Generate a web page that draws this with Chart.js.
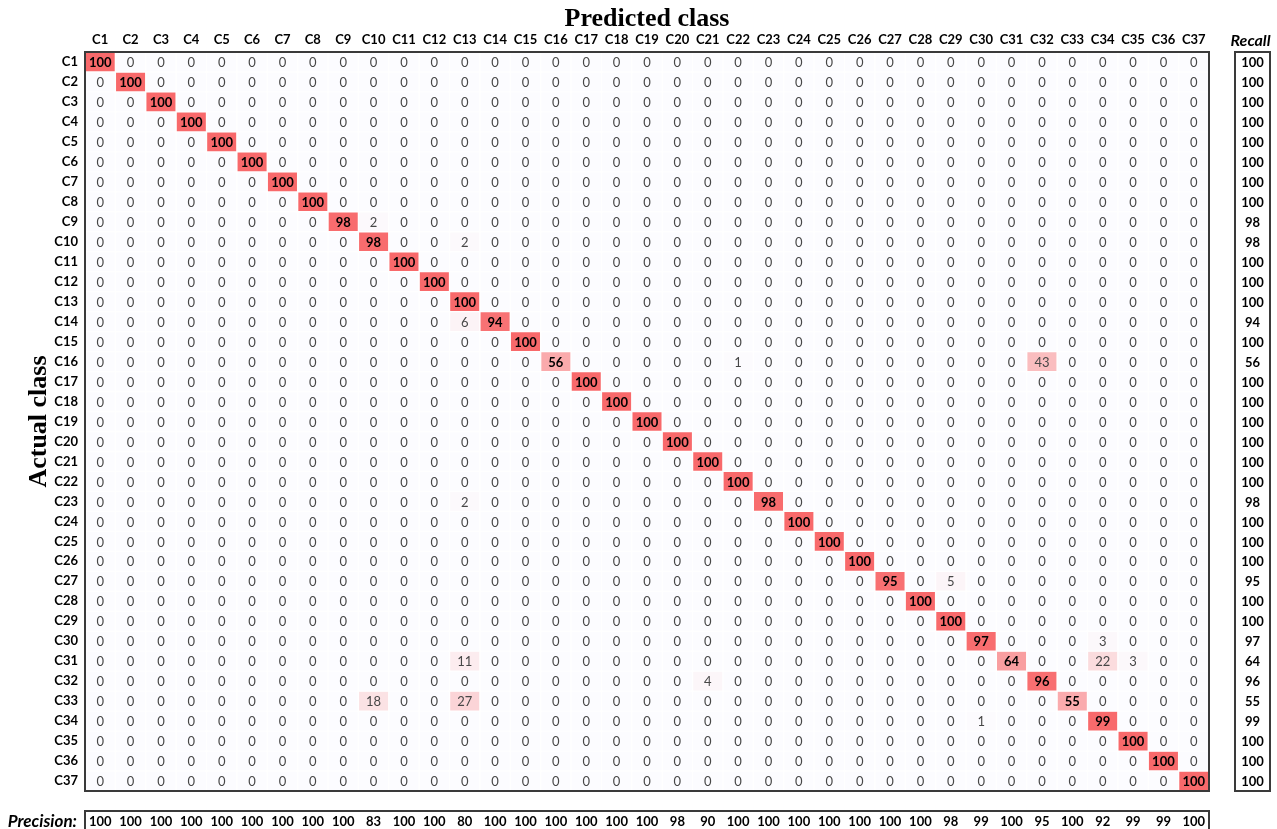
<!DOCTYPE html>
<html lang="en">
<head>
  <meta charset="UTF-8">
  <title>Confusion matrix</title>
  <script src="https://cdn.jsdelivr.net/npm/chart.js"></script>
  <style>
    body { margin: 0; background: #fff; }
    .wrap { width: 1277px; height: 829px; position: relative; }
  </style>
</head>
<body>
  <div class="wrap"><canvas id="cm"></canvas></div>

  <script>
    const CLASSES = ['C1', 'C2', 'C3', 'C4', 'C5', 'C6', 'C7', 'C8', 'C9', 'C10',
      'C11', 'C12', 'C13', 'C14', 'C15', 'C16', 'C17', 'C18', 'C19', 'C20',
      'C21', 'C22', 'C23', 'C24', 'C25', 'C26', 'C27', 'C28', 'C29', 'C30',
      'C31', 'C32', 'C33', 'C34', 'C35', 'C36', 'C37'];

    // correct predictions (diagonal), in class order
    const DIAGONAL = [100, 100, 100, 100, 100, 100, 100, 100, 98, 98,
      100, 100, 100, 94, 100, 56, 100, 100, 100, 100,
      100, 100, 98, 100, 100, 100, 95, 100, 100, 97,
      64, 96, 55, 99, 100, 100, 100];

    // off-diagonal cells: [actual, predicted, value]
    const CONFUSIONS = [
      ['C9', 'C10', 2],
      ['C10', 'C13', 2],
      ['C14', 'C13', 6],
      ['C16', 'C22', 1],
      ['C16', 'C32', 43],
      ['C23', 'C13', 2],
      ['C27', 'C29', 5],
      ['C30', 'C34', 3],
      ['C31', 'C13', 11],
      ['C31', 'C34', 22],
      ['C31', 'C35', 3],
      ['C32', 'C21', 4],
      ['C33', 'C10', 18],
      ['C33', 'C13', 27],
      ['C34', 'C30', 1]
    ];

    const RECALL = [100, 100, 100, 100, 100, 100, 100, 100, 98, 98,
      100, 100, 100, 94, 100, 56, 100, 100, 100, 100,
      100, 100, 98, 100, 100, 100, 95, 100, 100, 97,
      64, 96, 55, 99, 100, 100, 100];

    const PRECISION = [100, 100, 100, 100, 100, 100, 100, 100, 100, 83,
      100, 100, 80, 100, 100, 100, 100, 100, 100, 98,
      90, 100, 100, 100, 100, 100, 100, 100, 98, 99,
      100, 95, 100, 92, 99, 99, 100];

    // full table for the chart
    const matrix = CLASSES.map((_, r) => CLASSES.map((_, c) => (r === c ? DIAGONAL[r] : 0)));
    CONFUSIONS.forEach(([a, p, v]) => {
      matrix[CLASSES.indexOf(a)][CLASSES.indexOf(p)] = v;
    });

    // white -> red colour scale
    function heatColor(v) {
      const t = v / 100;
      const r = Math.round(252 + t * (248 - 252));
      const g = Math.round(252 + t * (105 - 252));
      const b = Math.round(255 + t * (107 - 255));
      return 'rgb(' + r + ',' + g + ',' + b + ')';
    }

    const cellText = {
      id: 'cellText',
      afterDatasetsDraw(chart) {
        const { ctx, chartArea, scales } = chart;
        const x = scales.x, y = scales.y;
        ctx.save();
        ctx.textAlign = 'center';
        ctx.textBaseline = 'middle';

        chart.data.datasets.forEach((ds, r) => {
          chart.getDatasetMeta(r).data.forEach((bar, c) => {
            const diag = r === c;
            ctx.font = (diag ? 'bold ' : '') + '13px Lato';
            ctx.fillStyle = diag ? '#000' : '#474747';
            ctx.fillText(matrix[r][c], bar.x, (bar.y + bar.base) / 2 + 1);
          });
        });

        ctx.lineWidth = 2;
        ctx.strokeStyle = '#3a3a3a';
        ctx.strokeRect(chartArea.left, chartArea.top, chartArea.width, chartArea.height);

        // recall column
        const rx = chartArea.right + 26, rw = 35;
        ctx.strokeRect(rx, chartArea.top, rw, chartArea.height);
        ctx.fillStyle = '#000';
        ctx.font = 'bold 13px Lato';
        RECALL.forEach((v, i) => ctx.fillText(v, rx + rw / 2, y.getPixelForValue(i + 1) + 1));
        ctx.font = 'italic bold 16px Lato';
        ctx.fillText('Recall', rx + rw / 2 - 2, chartArea.top - 11);

        // precision row
        const py = chartArea.bottom + 20;
        ctx.strokeRect(chartArea.left, py, chartArea.width, 30);
        ctx.font = 'bold 13px Lato';
        PRECISION.forEach((v, i) => ctx.fillText(v, x.getPixelForValue(i), py + 11));
        ctx.font = 'italic bold 17px Lato';
        ctx.textAlign = 'right';
        ctx.fillText('Precision:', chartArea.left - 8, py + 11);
        ctx.restore();
      }
    };

    const ctx = document.getElementById('cm').getContext('2d');
    new Chart(ctx, {
      type: 'bar',
      data: {
        labels: CLASSES,
        datasets: CLASSES.map((name, r) => ({
          label: name,
          data: CLASSES.map(() => [r + 0.5, r + 1.5]),
          backgroundColor: matrix[r].map(heatColor)
        }))
      },
      options: {
        responsive: true,
        maintainAspectRatio: false,
        animation: false,
        layout: { padding: { right: 68, bottom: 38 } },
        datasets: {
          bar: {
            grouped: false,
            barPercentage: 1,
            categoryPercentage: 1,
            borderWidth: 1,
            borderColor: '#ffffff',
            borderSkipped: false
          }
        },
        plugins: {
          legend: { display: false },
          tooltip: { enabled: false }
        },
        scales: {
          x: {
            position: 'top',
            grid: { display: false, drawTicks: false },
            border: { display: false },
            ticks: {
              autoSkip: false,
              maxRotation: 0,
              padding: 4,
              color: '#000',
              font: { family: 'Lato', weight: 'bold', size: 13 }
            },
            title: {
              display: true,
              text: 'Predicted class',
              color: '#000',
              font: { family: 'Liberation Serif', weight: 'bold', size: 26 },
              padding: { top: 4, bottom: 0 }
            },
            afterFit: s => { s.height = 52; }
          },
          y: {
            type: 'linear',
            min: 0.5,
            max: 37.5,
            reverse: true,
            grid: { display: false, drawTicks: false },
            border: { display: false },
            afterBuildTicks: s => { s.ticks = CLASSES.map((_, i) => ({ value: i + 1 })); },
            ticks: {
              padding: 7,
              color: '#000',
              font: { family: 'Lato', weight: 'bold', size: 13 },
              callback: v => CLASSES[v - 1]
            },
            title: {
              display: true,
              text: 'Actual class',
              color: '#000',
              font: { family: 'Liberation Serif', weight: 'bold', size: 26 },
              padding: { top: 24, bottom: 0 }
            },
            afterFit: s => { s.width = 85; }
          }
        }
      },
      plugins: [cellText]
    });
  </script>
</body>
</html>
